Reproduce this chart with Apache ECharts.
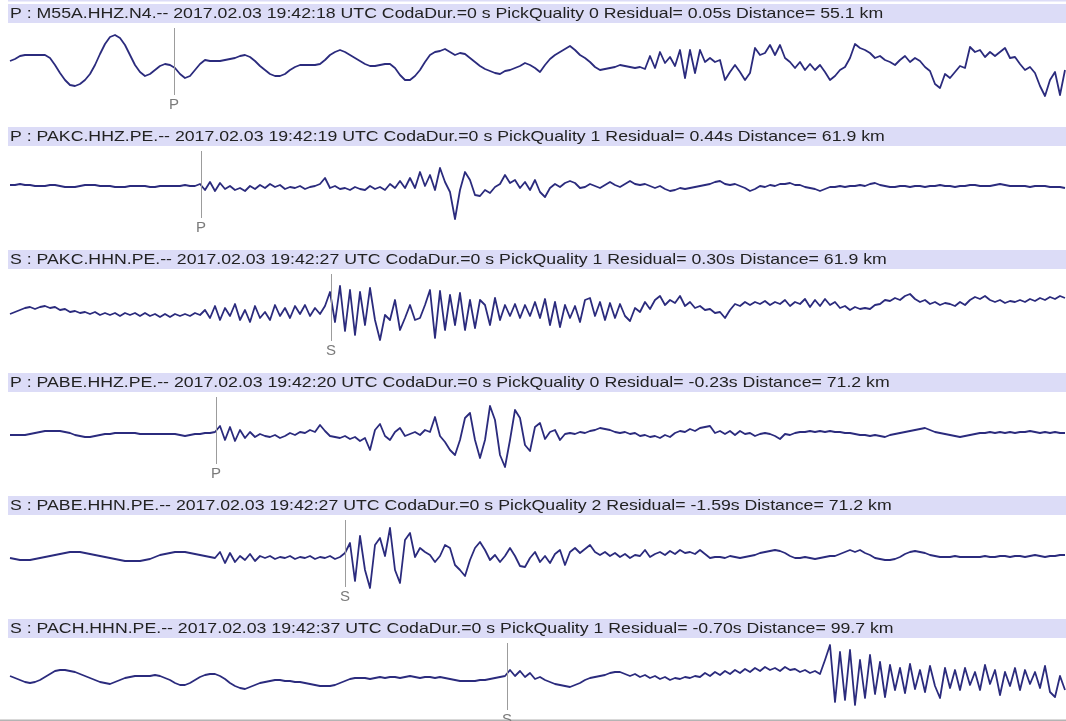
<!DOCTYPE html>
<html>
<head>
<meta charset="utf-8">
<title>Phase picks</title>
<script src="https://cdn.jsdelivr.net/npm/echarts@6/dist/echarts.min.js"></script>
<style>
  html, body { margin: 0; padding: 0; background: #ffffff; }
  #main { width: 1066px; height: 721px; }
</style>
</head>
<body>
<div id="main"></div>
<script>
// ---- pick metadata, one entry per trace ----
const phases    = ['P', 'P', 'S', 'P', 'S', 'S'];
const stations  = ['M55A.HHZ.N4.--', 'PAKC.HHZ.PE.--', 'PAKC.HHN.PE.--', 'PABE.HHZ.PE.--', 'PABE.HHN.PE.--', 'PACH.HHN.PE.--'];
const pickTimes = ['2017.02.03 19:42:18', '2017.02.03 19:42:19', '2017.02.03 19:42:27', '2017.02.03 19:42:20', '2017.02.03 19:42:27', '2017.02.03 19:42:37'];
const codaDur   = ['0', '0', '0', '0', '0', '0'];
const quality   = [0, 1, 1, 0, 2, 1];
const residuals = ['0.05', '0.44', '0.30', '-0.23', '-1.59', '-0.70'];
const distances = ['55.1', '61.9', '61.9', '71.2', '71.2', '99.7'];
// pick position along each trace, in samples
const pickSample = [164, 191, 321, 206, 335, 497];

// sample spacing of the traces
const SAMPLE_STEP = 5;

// ---- waveforms (relative amplitude, one value per sample) ----
const traceM55A_HHZ = [
  -1,1,4,5,5,5,5,5,2,
  -5,-13,-20,-25,-26,-24,-20,-14,-5,6,
  16,23,25,22,15,5,-5,-12,-16,-14,
  -10,-6,-4,-5,-8,-14,-18,-16,-10,-4,
  0,-1,-1,-1,0,1,2,4,5,3,
  -1,-6,-10,-14,-16,-16,-14,-10,-7,-5,
  -5,-5,-5,-4,0,5,8,10,8,5,
  2,-1,-4,-6,-6,-5,-4,-4,-8,-15,
  -20,-20,-16,-10,-2,5,8,9,11,8,
  5,7,6,2,-2,-6,-9,-11,-13,-14,
  -11,-10,-8,-6,-3,-5,-8,-12,-5,1,
  5,8,11,14,10,5,2,-2,-7,-10,
  -9,-8,-7,-5,-6,-7,-8,-7,-9,4,
  -8,8,-3,3,-6,10,-18,10,-13,10,
  -2,2,-2,0,-20,-12,-5,-12,-20,-13,
  12,5,7,15,5,15,2,-2,-8,-2,
  -10,-4,-10,-5,-12,-20,-16,-10,-7,2,
  16,12,10,7,2,4,0,-2,-5,0,
  4,-2,2,-1,-7,-11,-24,-28,-14,-18,
  -12,-6,-8,13,8,10,3,8,4,8,
  12,2,3,-4,-10,-7,-13,-26,-36,-20,
  -12,-35,-10
];
const tracePAKC_HHZ = [
  1,1,2,1,1,0,0,0,1,1,0,-1,-1,-1,0,1,1,1,0,0,0,-1,-1,-1,0,0,0,0,-1,-1,0,0,0,0,0,1,0,0,
  2,-4,4,-5,3,-3,0,-4,-2,-5,
  0,-3,1,-2,2,-1,1,-3,-1,-2,
  0,-3,-1,0,2,8,-2,0,-3,-2,
  -4,-1,-3,-4,0,-3,-1,-4,2,-2,
  5,-2,8,-2,14,0,11,-4,18,4,
  -6,-33,-4,14,6,-9,-10,-4,-7,-1,
  2,11,3,6,-2,4,-4,6,-6,-11,
  -2,2,-1,3,5,3,-2,-1,2,0,
  -2,1,4,1,-1,2,5,2,1,2,
  0,-2,0,-3,-5,-4,-2,-3,-2,-1,
  0,1,2,4,5,2,1,2,0,-2,
  -5,-3,0,-1,1,0,2,2,3,1,
  1,-1,-2,-3,-5,-3,-1,-1,0,-1,
  0,0,1,0,2,3,1,0,-1,-1,
  0,0,-1,0,0,-1,0,0,1,0,
  0,-1,0,0,1,1,0,0,0,1,
  2,1,0,0,0,0,-1,0,0,0,
  -1,-1,-1,-2
];
const tracePAKC_HHN = [
  -4,-2,0,2,3,1,3,4,2,
  3,0,1,-2,-1,-3,-2,-4,-2,-5,
  -3,-5,-3,-6,-3,-5,-3,-6,-3,-6,
  -4,-7,-4,-7,-4,-6,-4,-6,-3,-5,
  0,-8,4,-10,2,-6,6,-10,0,-12,
  4,-8,-2,-10,5,-6,2,-8,4,-4,
  5,-6,2,-4,4,18,-12,24,-21,20,
  -25,18,-15,22,-10,-30,-5,-10,10,-20,
  -8,5,-10,-8,5,20,-28,19,-20,15,
  -15,17,-20,10,-18,10,5,-15,12,-10,
  5,-6,6,-8,5,-6,8,-8,11,-15,
  8,-17,5,-8,4,-12,10,12,-6,8,
  -10,7,-8,6,-6,-11,2,-2,8,1,
  10,14,5,10,7,14,4,8,2,4,
  0,1,-3,-2,-8,0,6,4,8,5,
  8,6,9,5,8,6,10,4,8,6,
  11,3,10,4,11,5,8,2,4,0,
  3,1,2,1,5,6,10,9,12,10,
  14,16,11,8,10,6,8,5,7,6,
  4,8,5,10,13,11,14,10,8,10,
  7,9,8,10,8,11,9,12,10,13,
  11,14,12
];
const tracePABE_HHZ = [
  -2,-2,-2,-2,-1,0,1,2,2,
  2,2,1,0,-2,-3,-4,-4,-3,-2,
  -1,-1,0,0,0,0,0,-1,-1,-1,
  -1,-1,-1,-1,-1,-2,-3,-2,-1,-1,
  0,0,1,7,-7,6,-8,3,-5,1,
  -4,-1,-3,-4,-2,-5,-3,0,-2,1,
  0,3,1,8,2,-3,-4,-5,-3,-6,
  -4,-8,-5,-17,3,9,-3,-7,1,5,
  -3,-1,1,-2,3,1,16,-3,-9,-17,
  -22,-7,15,20,-7,-25,-7,27,13,-22,
  -34,-7,23,15,-12,-18,6,10,-6,1,
  3,-7,-1,0,-1,1,0,2,3,5,
  4,3,1,0,1,-1,0,-3,-2,-4,
  -3,-5,-2,-4,0,2,1,4,2,5,
  6,7,0,2,-1,2,-2,2,-1,0,
  -3,-1,0,-1,-3,-6,-1,-2,0,1,
  1,2,1,2,1,2,1,1,0,0,
  -1,-2,-2,-3,-2,-3,-4,-2,-1,0,
  1,2,3,4,5,3,1,0,-1,-2,
  -3,-4,-3,-2,-1,0,0,1,0,1,
  0,1,0,1,1,2,1,0,1,0,
  1,0,0
];
const tracePABE_HHN = [
  -2,-3,-4,-4,-4,-3,-2,-1,0,
  1,2,3,4,4,4,3,2,1,0,
  -1,-2,-3,-4,-5,-5,-5,-5,-4,-3,
  -1,1,2,3,4,4,4,3,2,1,
  0,-1,-2,4,-7,3,-6,0,-4,2,
  -5,0,-2,0,-3,-1,-2,0,-3,-1,
  -2,0,-3,-1,-2,0,-3,-1,3,13,
  -25,20,-14,-32,11,18,0,28,-14,-27,
  16,23,-1,8,4,1,-6,0,11,8,
  -9,-14,-20,-4,8,14,6,-4,1,-6,
  0,8,0,-10,-11,-2,4,-6,0,-7,
  2,6,-9,4,8,3,7,11,4,1,
  4,0,3,-1,2,-2,1,0,6,-1,
  2,4,1,5,2,6,3,4,2,6,
  2,-2,-1,-1,-2,0,-1,-2,-1,0,
  1,3,4,5,6,5,3,0,-2,-2,
  -1,-2,-3,-2,-1,0,0,2,4,6,
  4,6,3,1,-2,-3,-4,-4,-3,-1,
  2,4,5,4,3,1,0,-1,-1,-1,
  0,-1,-1,-1,-1,-1,0,-1,-1,0,
  0,-1,0,0,-1,0,1,0,-1,0,
  0,1,1
];
const tracePACH_HHN = [
  2,0,-2,-4,-5,-4,-2,1,4,
  7,8,8,7,6,4,2,0,-2,-4,
  -5,-6,-4,-2,0,1,2,2,2,2,
  3,2,0,-2,-5,-7,-7,-5,-2,1,
  3,4,4,2,-1,-5,-8,-10,-11,-9,
  -7,-5,-4,-3,-2,-2,-3,-3,-4,-4,
  -5,-6,-7,-8,-8,-8,-7,-5,-3,-1,
  0,0,0,-1,0,1,0,1,1,0,
  1,2,1,0,1,1,0,1,0,-1,
  -2,-3,-3,-3,-3,-2,-2,-1,0,1,
  2,8,2,7,1,5,-1,1,-2,-4,
  -6,-7,-8,-9,-7,-5,-2,0,1,2,
  3,5,6,6,4,2,4,1,3,0,
  2,-1,1,-2,0,-1,1,0,2,1,
  5,2,6,3,7,4,8,5,9,6,
  10,7,11,8,10,7,11,8,9,6,
  8,5,7,4,18,33,-24,26,-22,28,
  -27,18,-20,23,-16,16,-19,13,-12,10,
  -15,14,-11,8,-14,12,-8,-20,10,-10,
  8,-12,10,-7,6,-12,13,-6,8,-17,
  6,-8,10,-12,8,-6,6,-10,12,-14,
  -19,2,-12
];
const traces = [traceM55A_HHZ, tracePAKC_HHZ, tracePAKC_HHN, tracePABE_HHZ, tracePABE_HHN, tracePACH_HHN];

// ---- layout ----
const PANEL_TOP   = [4, 127, 250, 373, 496, 619];   // top of each header band
const HEADER_H    = 19;
const TRACE_H     = [100, 100, 100, 100, 100, 82];   // plot height below each header
const ZERO_OFFSET = [36, 39, 40, 40, 40, 39];        // zero line, px below the plot top
const PLOT_LEFT   = 10;
const PLOT_WIDTH  = 1056;
const PICK_LEN    = 67;
const TEXT_STRETCH = 1.18;                           // horizontal stretch of the header type

const headerText = i =>
  phases[i] + ' : ' + stations[i] + ' ' + pickTimes[i] + ' UTC CodaDur.=' + codaDur[i] +
  ' s PickQuality ' + quality[i] + ' Residual= ' + residuals[i] + 's Distance= ' + distances[i] + ' km';

const grids = [], xAxes = [], yAxes = [], series = [], graphics = [];

graphics.push({ type: 'rect', shape: { x: 8, y: 0, width: 1058, height: 1.5 }, style: { fill: '#dcdcf7' }, silent: true });

traces.forEach((vals, i) => {
  const top = PANEL_TOP[i] + HEADER_H + 1;
  grids.push({ left: PLOT_LEFT, top: top, width: PLOT_WIDTH, height: TRACE_H[i], containLabel: false });
  xAxes.push({ type: 'value', gridIndex: i, min: 0, max: PLOT_WIDTH, show: false });
  yAxes.push({ type: 'value', gridIndex: i, min: ZERO_OFFSET[i] - TRACE_H[i], max: ZERO_OFFSET[i], show: false });

  const pickTop = ZERO_OFFSET[i] - 4;
  series.push({
    type: 'line',
    xAxisIndex: i,
    yAxisIndex: i,
    data: vals.map((v, k) => [k * SAMPLE_STEP, v]),
    showSymbol: false,
    symbol: 'none',
    clip: false,
    animation: false,
    lineStyle: { color: '#2b2b7d', width: 1.8, join: 'round' },
    emphasis: { disabled: true },
    markLine: {
      silent: true,
      animation: false,
      symbol: ['none', 'none'],
      lineStyle: { color: '#9c9c9c', width: 1, type: 'solid' },
      label: { show: true, position: 'end', formatter: phases[i], color: '#7a7a7a', fontSize: 15, fontFamily: 'Liberation Sans', distance: 2 },
      data: [[
        { coord: [pickSample[i], pickTop] },
        { coord: [pickSample[i], pickTop - PICK_LEN] }
      ]]
    }
  });

  graphics.push({ type: 'rect', shape: { x: 8, y: PANEL_TOP[i], width: 1058, height: HEADER_H }, style: { fill: '#dcdcf7' }, silent: true });
  graphics.push({
    type: 'text', silent: true,
    x: 10, y: PANEL_TOP[i] + 10, scaleX: TEXT_STRETCH, scaleY: 1,
    style: { text: headerText(i), x: 0, y: 0, verticalAlign: 'middle',
             font: '15px "Liberation Sans", Arial, sans-serif', fill: '#222222' }
  });
});

graphics.push({ type: 'rect', shape: { x: 0, y: 719.5, width: 1066, height: 1.5 }, style: { fill: '#b4b4b4' }, silent: true });

const chart = echarts.init(document.getElementById('main'), null, { renderer: 'canvas' });
chart.setOption({
  backgroundColor: '#ffffff',
  animation: false,
  grid: grids,
  xAxis: xAxes,
  yAxis: yAxes,
  series: series,
  graphic: graphics
});
</script>
</body>
</html>
